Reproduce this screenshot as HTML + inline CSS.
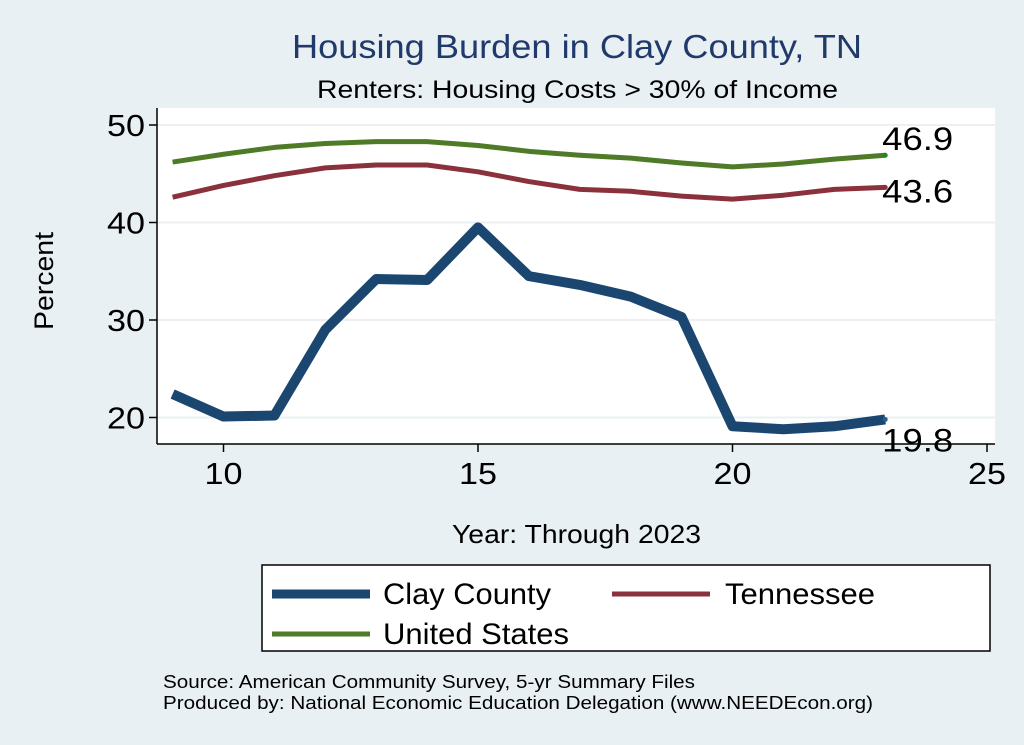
<!DOCTYPE html>
<html><head><meta charset="utf-8"><style>
body{margin:0;background:#e9f0f3;}
svg{display:block;font-family:"Liberation Sans",sans-serif;}
</style></head><body>
<svg id="c" width="1024" height="745">
<rect x="0" y="0" width="1024" height="745" fill="#e9f0f3"/>
<rect x="157" y="108" width="838" height="336" fill="#fff"/>
<text x="292" y="58" textLength="570" lengthAdjust="spacingAndGlyphs" font-size="33" fill="#1f3a6b">Housing Burden in Clay County, TN</text>
<text x="317" y="98" textLength="521" lengthAdjust="spacingAndGlyphs" font-size="25" fill="#000">Renters: Housing Costs &gt; 30% of Income</text>
<g id="grid"></g>
<g id="axes"></g>
<g id="series"></g>
<text transform="translate(53,330) rotate(-90)" textLength="98" lengthAdjust="spacingAndGlyphs" font-size="27">Percent</text>
<text x="452" y="543" textLength="249" lengthAdjust="spacingAndGlyphs" font-size="26">Year: Through 2023</text>
<g>
<rect x="262" y="565" width="728" height="86" fill="#fff" stroke="#000" stroke-width="1.5"/>
<line x1="272" y1="594" x2="370" y2="594" stroke="#1a4670" stroke-width="9"/>
<text x="383" y="604" textLength="168" lengthAdjust="spacingAndGlyphs" font-size="30">Clay County</text>
<line x1="612" y1="594" x2="710" y2="594" stroke="#8b313b" stroke-width="5"/>
<text x="725" y="604" textLength="150" lengthAdjust="spacingAndGlyphs" font-size="30">Tennessee</text>
<line x1="272" y1="634" x2="370" y2="634" stroke="#4f7a28" stroke-width="5"/>
<text x="383" y="644" textLength="186" lengthAdjust="spacingAndGlyphs" font-size="30">United States</text>
</g>
<text x="163" y="688" textLength="532" lengthAdjust="spacingAndGlyphs" font-size="18">Source: American Community Survey, 5-yr Summary Files</text>
<text x="163" y="709" textLength="710" lengthAdjust="spacingAndGlyphs" font-size="18">Produced by: National Economic Education Delegation (www.NEEDEcon.org)</text>
</svg>
<script>
const years=[9,10,11,12,13,14,15,16,17,18,19,20,21,22,23];
const clay=[22.4,20.1,20.2,29.0,34.2,34.1,39.5,34.5,33.6,32.4,30.3,19.1,18.8,19.1,19.8];
const tn=[42.6,43.8,44.8,45.6,45.9,45.9,45.2,44.2,43.4,43.2,42.7,42.4,42.8,43.4,43.6];
const us=[46.2,47.0,47.7,48.1,48.3,48.3,47.9,47.3,46.9,46.6,46.1,45.7,46.0,46.5,46.9];
const xTicks=[10,15,20,25];
const yTicks=[20,30,40,50];
const NS="http://www.w3.org/2000/svg";
const xs=v=>223.5+(v-10)*50.9;
const ys=v=>125+(50-v)*9.75;
function mk(t,a,p){const e=document.createElementNS(NS,t);for(const k in a)e.setAttribute(k,a[k]);p.appendChild(e);return e;}
const grid=document.getElementById('grid'),axes=document.getElementById('axes'),ser=document.getElementById('series');
yTicks.forEach(v=>{
const g=mk('line',{x1:157,x2:995,y1:ys(v),y2:ys(v),stroke:'#eaf0f3','stroke-width':2},grid);


mk('line',{x1:149,x2:157,y1:ys(v),y2:ys(v),stroke:'#000','stroke-width':1.5},axes);
const t=mk('text',{x:145,y:ys(v)+11,'text-anchor':'end','font-size':31,textLength:38,lengthAdjust:'spacingAndGlyphs'},axes);t.textContent=v;


});
xTicks.forEach(v=>{
mk('line',{x1:xs(v),x2:xs(v),y1:444,y2:452,stroke:'#000','stroke-width':1.5},axes);
const t=mk('text',{x:xs(v),y:484,'text-anchor':'middle','font-size':31,textLength:38,lengthAdjust:'spacingAndGlyphs'},axes);t.textContent=v;


});
mk('line',{x1:157,x2:157,y1:108,y2:444,stroke:'#000','stroke-width':1.5},axes);
mk('line',{x1:157,x2:995,y1:444,y2:444,stroke:'#000','stroke-width':1.5},axes);
function line(data,col,w,name,dotCol,dy){
const p=mk('polyline',{points:data.map((v,i)=>xs(years[i])+','+ys(v)).join(' '),fill:'none',stroke:col,'stroke-width':w,'stroke-linejoin':'round'},ser);


const n=data.length-1;
mk('circle',{cx:xs(years[n]),cy:ys(data[n]),r:2.5,fill:dotCol},ser);
const t=mk('text',{x:xs(years[n])-3,y:ys(data[n])+dy,'font-size':32,textLength:71,lengthAdjust:'spacingAndGlyphs'},ser);t.textContent=data[n].toFixed(1);


}
line(us,'#4f7a28',5,'us-line','#1a8a1a',-5);
line(tn,'#8b313b',5,'tn-line','#8b313b',15);
line(clay,'#1a4670',10,'clay-line','#2a6090',32);
</script>
</body></html>
